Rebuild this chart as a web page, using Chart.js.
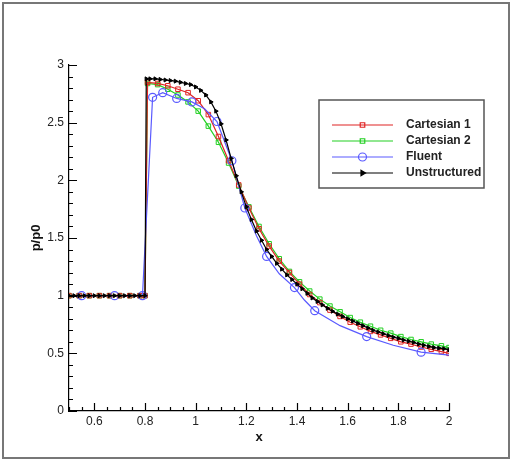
<!DOCTYPE html>
<html>
<head>
<meta charset="utf-8">
<script src="https://cdn.jsdelivr.net/npm/chart.js@4.4.1/dist/chart.umd.min.js"></script>
<style>
  html, body { margin: 0; padding: 0; background: #fff; }
</style>
</head>
<body>
<canvas id="chart" width="513" height="461"></canvas>
<script>
// Cartesian grids (both runs share the same x stations)
const cartX = [0.5, 0.54, 0.58, 0.62, 0.66, 0.7, 0.74, 0.78, 0.8, 0.81,
  0.85, 0.89, 0.93, 0.97, 1.01, 1.05, 1.09, 1.13, 1.17, 1.21, 1.25, 1.29, 1.33, 1.37, 1.41,
  1.45, 1.49, 1.53, 1.57, 1.61, 1.65, 1.69, 1.73, 1.77, 1.81, 1.85, 1.89, 1.93, 1.97, 2.0];
const cartesian1 = [1, 1, 1, 1, 1, 1, 1, 1, 1, 2.85,
  2.84, 2.82, 2.79, 2.76, 2.69, 2.57, 2.38, 2.17, 1.96, 1.76, 1.58, 1.43, 1.30, 1.20, 1.10,
  1.01, 0.94, 0.875, 0.82, 0.77, 0.73, 0.69, 0.66, 0.63, 0.60, 0.58, 0.555, 0.535, 0.515, 0.50];
const cartesian2 = [1, 1, 1, 1, 1, 1, 1, 1, 1, 2.84,
  2.83, 2.79, 2.74, 2.68, 2.60, 2.47, 2.33, 2.15, 1.95, 1.77, 1.60, 1.45, 1.32, 1.21, 1.12,
  1.04, 0.97, 0.91, 0.86, 0.81, 0.77, 0.735, 0.70, 0.675, 0.645, 0.62, 0.60, 0.58, 0.565, 0.55];

const fluentX = [0.5, 0.55, 0.68, 0.79, 0.83, 0.87, 0.925, 0.985, 1.035, 1.084, 1.143, 1.194,
  1.24, 1.28, 1.33, 1.39, 1.43, 1.47, 1.57, 1.675, 1.78, 1.89, 2.0];
const fluent = [1, 1, 1, 1, 2.72, 2.76, 2.71, 2.68, 2.62, 2.51, 2.17, 1.76,
  1.52, 1.34, 1.19, 1.07, 0.96, 0.87, 0.74, 0.645, 0.57, 0.51, 0.485];
const fluentMarker = [0, 1, 1, 1, 1, 1, 1, 1, 0, 1, 1, 1,
  0, 1, 0, 1, 0, 1, 0, 1, 0, 1, 0];

const unsX = [0.5, 0.52, 0.54, 0.56, 0.58, 0.6, 0.62, 0.64, 0.66, 0.68, 0.7, 0.72, 0.74, 0.76, 0.78,
  0.8, 0.805, 0.82, 0.84, 0.86, 0.88, 0.9, 0.92, 0.94, 0.96, 0.98, 1.0,
  1.02, 1.04, 1.06, 1.08, 1.1, 1.12, 1.14, 1.16, 1.18, 1.2, 1.22, 1.24, 1.26, 1.28, 1.3,
  1.32, 1.34, 1.36, 1.38, 1.4, 1.42, 1.44, 1.46, 1.48, 1.5, 1.52, 1.54, 1.56, 1.58, 1.6,
  1.62, 1.64, 1.66, 1.68, 1.7, 1.72, 1.74, 1.76, 1.78, 1.8, 1.82, 1.84, 1.86, 1.88, 1.9,
  1.92, 1.94, 1.96, 1.98, 2.0];
const unstructured = [1, 1, 1, 1, 1, 1, 1, 1, 1, 1, 1, 1, 1, 1, 1,
  1, 2.88, 2.88, 2.88, 2.875, 2.87, 2.865, 2.86, 2.85, 2.84, 2.83, 2.81,
  2.78, 2.74, 2.68, 2.60, 2.49, 2.35, 2.19, 2.04, 1.90, 1.77, 1.66, 1.56, 1.48, 1.40, 1.34,
  1.28, 1.23, 1.18, 1.14, 1.10, 1.06, 1.02, 0.98, 0.95, 0.92, 0.89, 0.865, 0.84, 0.82, 0.80,
  0.78, 0.76, 0.74, 0.72, 0.70, 0.685, 0.67, 0.655, 0.64, 0.63, 0.615, 0.605, 0.595, 0.58, 0.57,
  0.56, 0.55, 0.545, 0.54, 0.53];

const xMajor = [0.6, 0.8, 1, 1.2, 1.4, 1.6, 1.8, 2];
const yMajor = [0, 0.5, 1, 1.5, 2, 2.5, 3];

const pts = (xs, ys) => xs.map((x, i) => ({ x: x, y: ys[i] }));
const isMajor = (v, list) => list.some(m => Math.abs(m - v) < 1e-6);

// tick positions: minor every 0.05 on x, every 0.1 on y
const xTickVals = [];
for (let i = 0; i <= 30; i++) xTickVals.push(+(0.5 + i * 0.05).toFixed(2));
const yTickVals = [];
for (let i = 0; i <= 30; i++) yTickVals.push(+(i * 0.1).toFixed(1));

// tecplot-style ticks, pointing into the plot
const inwardTicks = {
  id: 'inwardTicks',
  afterDraw(chart) {
    const ctx = chart.ctx;
    const xs = chart.scales.x, ys = chart.scales.y;
    const area = chart.chartArea;
    ctx.save();
    ctx.strokeStyle = '#000';
    ctx.lineWidth = 1.2;
    ctx.beginPath();
    xTickVals.forEach(v => {
      const px = Math.round(xs.getPixelForValue(v)) + 0.5;
      const len = isMajor(v, xMajor) ? 8 : 4;
      ctx.moveTo(px, area.bottom);
      ctx.lineTo(px, area.bottom - len);
    });
    yTickVals.forEach(v => {
      const py = Math.round(ys.getPixelForValue(v)) + 0.5;
      const len = isMajor(v, yMajor) ? 8 : 4;
      ctx.moveTo(area.left, py);
      ctx.lineTo(area.left + len, py);
    });
    ctx.stroke();
    ctx.restore();
  }
};

const legendBox = {
  id: 'legendBox',
  afterDraw(chart) {
    const ctx = chart.ctx;
    ctx.save();
    ctx.fillStyle = '#fff';
    ctx.fillRect(319, 100, 165, 88);
    ctx.strokeStyle = '#555';
    ctx.lineWidth = 1.5;
    ctx.strokeRect(319, 100, 165, 88);
    chart.data.datasets.slice().sort((a, b) => a.legendRow - b.legendRow).forEach((ds, i) => {
      const y = 125 + i * 16;
      ctx.strokeStyle = ds.borderColor;
      ctx.lineWidth = 1.2;
      ctx.beginPath();
      ctx.moveTo(332, y);
      ctx.lineTo(393, y);
      ctx.stroke();
      ctx.fillStyle = ds.legendFill;
      Chart.helpers.drawPoint(ctx, {
        pointStyle: ds.pointStyle,
        radius: ds.legendRadius,
        rotation: ds.pointRotation || 0,
        borderWidth: 1
      }, 362.5, y);
      ctx.fillStyle = '#222';
      ctx.font = 'bold 12px "Liberation Sans", Arial, sans-serif';
      ctx.textBaseline = 'middle';
      ctx.fillText(ds.label, 406, y);
    });
    ctx.restore();
  }
};

const frame = {
  id: 'frame',
  afterDraw(chart) {
    const ctx = chart.ctx;
    ctx.save();
    ctx.strokeStyle = '#777';
    ctx.lineWidth = 2;
    ctx.strokeRect(3, 3, 506, 455);
    ctx.restore();
  }
};

const tickFont = { family: '"Liberation Sans", Arial, sans-serif', size: 12 };
const titleFont = { family: '"Liberation Sans", Arial, sans-serif', size: 13, weight: 'bold' };

new Chart(document.getElementById('chart'), {
  type: 'line',
  data: {
    datasets: [
      {
        label: 'Unstructured', legendRow: 3, order: 1,
        data: pts(unsX, unstructured),
        borderColor: '#000', backgroundColor: '#000', legendFill: '#000',
        borderWidth: 1.2, pointStyle: 'triangle', pointRotation: 90,
        pointRadius: 2.3, pointBorderWidth: 1, legendRadius: 3
      },
      {
        label: 'Fluent', legendRow: 2, order: 2,
        data: pts(fluentX, fluent),
        borderColor: '#5a5aff', backgroundColor: 'rgba(255,255,255,0)', legendFill: 'rgba(255,255,255,0)',
        borderWidth: 1.2, pointStyle: 'circle',
        pointRadius: fluentMarker.map(m => m ? 4 : 0), pointBorderWidth: 1.2, legendRadius: 4
      },
      {
        label: 'Cartesian 1', legendRow: 0, order: 3,
        data: pts(cartX, cartesian1),
        borderColor: '#e02424', backgroundColor: 'rgba(255,255,255,0)', legendFill: 'rgba(255,255,255,0)',
        borderWidth: 1.2, pointStyle: 'rect',
        pointRadius: 3.2, pointBorderWidth: 1, legendRadius: 3.2
      },
      {
        label: 'Cartesian 2', legendRow: 1, order: 4,
        data: pts(cartX, cartesian2),
        borderColor: '#22d022', backgroundColor: 'rgba(255,255,255,0)', legendFill: 'rgba(255,255,255,0)',
        borderWidth: 1.2, pointStyle: 'rect',
        pointRadius: 3.2, pointBorderWidth: 1, legendRadius: 3.2
      }
    ]
  },
  options: {
    responsive: false,
    animation: false,
    layout: { padding: { left: 0, top: 65, right: 64, bottom: 0 } },
    plugins: { legend: { display: false }, tooltip: { enabled: false } },
    elements: { line: { tension: 0 } },
    scales: {
      x: {
        type: 'linear', min: 0.5, max: 2,
        afterBuildTicks: s => { s.ticks = xTickVals.map(v => ({ value: v })); },
        afterFit: s => { s.height = 50; },
        grid: { display: false, drawTicks: false },
        border: { display: true, color: '#000', width: 1.2 },
        ticks: {
          autoSkip: false, maxRotation: 0, padding: 3, color: '#222', font: tickFont,
          callback: v => isMajor(v, xMajor) ? String(v) : ''
        },
        title: { display: true, text: 'x', color: '#111', font: titleFont, padding: { top: 0, bottom: 16 } }
      },
      y: {
        type: 'linear', min: 0, max: 3,
        afterBuildTicks: s => { s.ticks = yTickVals.map(v => ({ value: v })); },
        afterFit: s => { s.width = 69; },
        grid: { display: false, drawTicks: false },
        border: { display: true, color: '#000', width: 1.2 },
        ticks: {
          autoSkip: false, padding: 5, color: '#222', font: tickFont,
          callback: v => isMajor(v, yMajor) ? String(v) : ''
        },
        title: { display: true, text: 'p/p0', color: '#111', font: titleFont, padding: { top: 29, bottom: 0 } }
      }
    }
  },
  plugins: [inwardTicks, legendBox, frame]
});
</script>
</body>
</html>
